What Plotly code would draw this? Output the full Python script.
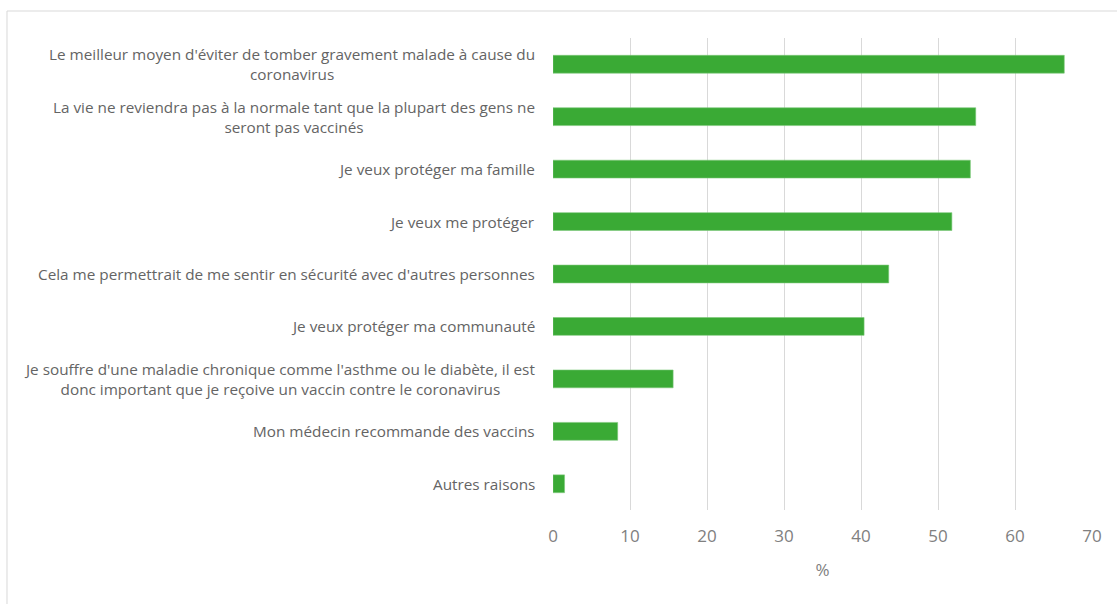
import plotly.graph_objects as go

categories = [
    "Le meilleur moyen d'éviter de tomber gravement malade à cause du<br>coronavirus",
    "La vie ne reviendra pas à la normale tant que la plupart des gens ne<br>seront pas vaccinés",
    "Je veux protéger ma famille",
    "Je veux me protéger",
    "Cela me permettrait de me sentir en sécurité avec d'autres personnes",
    "Je veux protéger ma communauté",
    "Je souffre d'une maladie chronique comme l'asthme ou le diabète, il est<br>donc important que je reçoive un vaccin contre le coronavirus",
    "Mon médecin recommande des vaccins",
    "Autres raisons",
]
values = [66.4, 54.9, 54.2, 51.8, 43.6, 40.4, 15.6, 8.4, 1.5]
x_ticks = [0, 10, 20, 30, 40, 50, 60, 70]

TEXT = "#646464"
FONT = "Open Sans"

fig = go.Figure(go.Bar(
    x=values, y=categories, orientation="h",
    marker=dict(color="#3aaa35", line=dict(color="#7cc878", width=0.6)),
    width=0.34, hoverinfo="x+y",
))

annotations = [
    dict(x=-0.029, xref="paper", y=c, yref="y", text=c, showarrow=False,
         xanchor="right", yanchor="middle", align="center",
         font=dict(family=FONT, size=15.3, color=TEXT))
    for c in categories
]

fig.update_layout(
    width=1117, height=604,
    margin=dict(l=553, r=25, t=38, b=94),
    paper_bgcolor="white", plot_bgcolor="white",
    showlegend=False,
    annotations=annotations,
    xaxis=dict(range=[0, 70], tickvals=x_ticks, showgrid=True, gridcolor="#d9d9d9",
               gridwidth=1, zeroline=False, showline=False, ticks="",
               ticklabelstandoff=14,
               tickfont=dict(family=FONT, size=17, color="#808080"),
               title=dict(text="%", font=dict(family=FONT, size=17, color="#808080"), standoff=18)),
    yaxis=dict(autorange="reversed", showticklabels=False, showgrid=False, zeroline=False,
               showline=False, ticks=""),
    shapes=[
        dict(type="rect", xref="paper", yref="paper", x0=-1.013, x1=1.1, y0=-0.3, y1=1.0572,
             line=dict(color="#d9d9d9", width=1), fillcolor="rgba(0,0,0,0)", layer="below"),
    ],
)

fig.write_html("out.html")
